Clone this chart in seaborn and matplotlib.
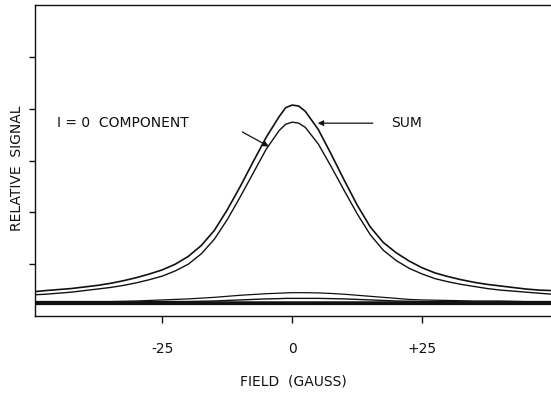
import matplotlib
matplotlib.use("Agg")
import matplotlib.pyplot as plt
import seaborn as sns
import pandas as pd

# Field values (gauss) at which curves were read
field = [-49.5, -47.5, -45, -42.5, -40, -37.5, -35, -32.5, -30, -27.5, -25, -22.5, -20, -17.5,
         -15, -12.5, -10, -7.5, -5, -2.5, -1.25, 0, 1.25, 2.5, 5, 7.5, 10, 12.5, 15, 17.5,
         20, 22.5, 25, 27.5, 30, 32.5, 35, 37.5, 40, 42.5, 45, 47.5, 50]

sum_signal = [0.47, 0.49, 0.51, 0.53, 0.56, 0.59, 0.63, 0.68, 0.74, 0.81, 0.89, 1.00, 1.15, 1.36,
              1.65, 2.05, 2.50, 2.98, 3.45, 3.85, 4.02, 4.07, 4.05, 3.95, 3.60, 3.12, 2.62, 2.14, 1.72, 1.42,
              1.22, 1.06, 0.93, 0.83, 0.76, 0.70, 0.65, 0.61, 0.58, 0.55, 0.52, 0.50, 0.49]

i0_component = [0.41, 0.42, 0.44, 0.46, 0.49, 0.52, 0.55, 0.59, 0.64, 0.70, 0.77, 0.87, 1.00, 1.20,
                1.48, 1.86, 2.30, 2.76, 3.22, 3.58, 3.70, 3.74, 3.72, 3.64, 3.32, 2.88, 2.42, 1.97, 1.57, 1.27,
                1.07, 0.92, 0.81, 0.72, 0.66, 0.61, 0.57, 0.53, 0.50, 0.48, 0.46, 0.44, 0.42]

minor_a = [0.28, 0.28, 0.28, 0.28, 0.28, 0.28, 0.28, 0.285, 0.29, 0.30, 0.31, 0.32, 0.33, 0.345,
           0.36, 0.38, 0.40, 0.415, 0.43, 0.44, 0.445, 0.45, 0.45, 0.45, 0.445, 0.435, 0.42, 0.40, 0.38, 0.36,
           0.34, 0.32, 0.31, 0.305, 0.30, 0.295, 0.29, 0.29, 0.29, 0.285, 0.28, 0.28, 0.28]

minor_b = [0.27, 0.27, 0.27, 0.27, 0.27, 0.27, 0.27, 0.27, 0.27, 0.275, 0.28, 0.28, 0.28, 0.285,
           0.29, 0.30, 0.31, 0.32, 0.33, 0.335, 0.34, 0.34, 0.34, 0.34, 0.34, 0.335, 0.33, 0.32, 0.31, 0.30,
           0.29, 0.285, 0.28, 0.28, 0.28, 0.275, 0.27, 0.27, 0.27, 0.27, 0.27, 0.27, 0.27]

baseline_a = [0.27] * len(field)
baseline_b = [0.24] * len(field)

x_ticks = [-25, 0, 25]
x_tick_labels = ["-25", "0", "+25"]
y_ticks = [1, 2, 3, 4, 5]

sns.set_theme(style="white")
plt.rcParams["font.family"] = ["DejaVu Sans"]

fig = plt.figure(figsize=(5.51, 3.93), dpi=100)
ax = fig.add_axes([35 / 551, 77 / 393, 1 - 35 / 551 + 0.002, 311 / 393])

df = pd.DataFrame({"field": field, "sum": sum_signal, "i0": i0_component,
                   "ma": minor_a, "mb": minor_b, "ba": baseline_a, "bb": baseline_b})

for col, lw in [("sum", 1.2), ("i0", 1.0), ("ma", 0.9), ("mb", 1.0), ("ba", 1.8), ("bb", 1.6)]:
    sns.lineplot(data=df, x="field", y=col, ax=ax, color="#111111", linewidth=lw,
                 estimator=None, sort=False)

ax.set_xlim(-49.5, 50)
ax.set_ylim(0, 6)
ax.set_xticks(x_ticks)
ax.set_xticklabels(x_tick_labels)
ax.set_yticks(y_ticks)
ax.set_yticklabels([])

ax.tick_params(axis="x", direction="out", length=5, width=1, color="#111111",
               labelsize=10, pad=14, labelcolor="#111111")
ax.tick_params(axis="y", direction="out", length=4, width=1, color="#111111")
ax.tick_params(bottom=True, left=True)

for side in ["left", "bottom", "top"]:
    ax.spines[side].set_color("#111111")
    ax.spines[side].set_linewidth(1.0)
ax.spines["right"].set_visible(False)

ax.set_xlabel("FIELD  (GAUSS)", fontsize=10, color="#111111", labelpad=13)
ax.set_ylabel("RELATIVE  SIGNAL", fontsize=10, color="#111111")
ax.yaxis.set_label_coords(-0.022, 0.476)

ax.text(-45.2, 3.72, "I = 0  COMPONENT", fontsize=10, color="#111111",
        ha="left", va="center")
ax.text(19.0, 3.72, "SUM", fontsize=10, color="#111111", ha="left", va="center")

ax.annotate("", xy=(4.9, 3.72), xytext=(15.5, 3.72),
            arrowprops=dict(arrowstyle="-|>", color="#111111", lw=0.9,
                            mutation_scale=8, shrinkA=0, shrinkB=0))
ax.annotate("", xy=(-4.5, 3.27), xytext=(-9.6, 3.55),
            arrowprops=dict(arrowstyle="-|>", color="#111111", lw=0.9,
                            mutation_scale=8, shrinkA=0, shrinkB=0))

fig.savefig("out.png", dpi=100)
